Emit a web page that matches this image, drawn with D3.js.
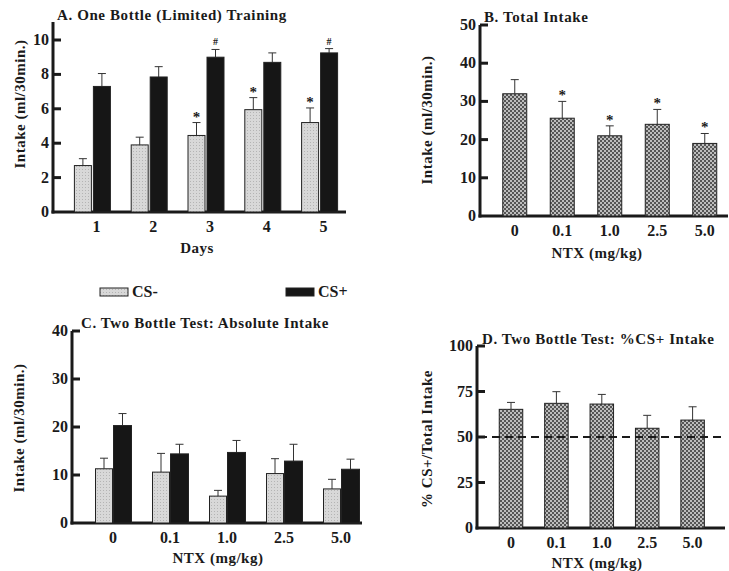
<!DOCTYPE html>
<html><head><meta charset="utf-8">
<script src="https://cdn.jsdelivr.net/npm/d3@7"></script>
<style>
body{margin:0;background:#fff;}
text{font-family:"Liberation Serif","Times New Roman",serif;font-weight:bold;fill:#1a1a1a;}
</style></head><body>
<svg id="chart" width="729" height="571"></svg>
<script>
// ---- data ----
const days = ["1","2","3","4","5"];
const aCSminus = [2.7, 3.9, 4.45, 5.95, 5.2];
const aCSminusErr = [0.4, 0.45, 0.75, 0.7, 0.85];
const aCSplus = [7.3, 7.85, 9.0, 8.7, 9.25];
const aCSplusErr = [0.75, 0.6, 0.45, 0.55, 0.25];
const aCSminusMarks = ["", "", "*", "*", "*"];
const aCSplusMarks = ["", "", "#", "", "#"];
const doses = ["0","0.1","1.0","2.5","5.0"];
const bTotal = [32.0, 25.6, 21.0, 24.0, 19.0];
const bTotalErr = [3.7, 4.4, 2.6, 3.9, 2.6];
const bMarks = ["", "*", "*", "*", "*"];
const cCSminus = [11.3, 10.6, 5.6, 10.3, 7.1];
const cCSminusErr = [2.2, 3.9, 1.2, 3.1, 2.0];
const cCSplus = [20.3, 14.4, 14.7, 12.9, 11.2];
const cCSplusErr = [2.5, 2.0, 2.5, 3.5, 2.1];
const dPercent = [65.2, 68.5, 68.1, 54.8, 59.3];
const dPercentErr = [3.8, 6.4, 5.3, 7.1, 7.3];
const dReference = 50;
const aTicks = [0,2,4,6,8,10];
const bTicks = [0,10,20,30,40,50];
const cTicks = [0,10,20,30,40];
const dTicks = [0,25,50,75,100];
const legendLabels = ["CS-","CS+"];

const svg = d3.select("#chart");
const defs = svg.append("defs");
const pat = defs.append("pattern").attr("id","checker").attr("patternUnits","userSpaceOnUse")
  .attr("width",4).attr("height",4);
pat.append("rect").attr("width",4).attr("height",4).attr("fill","#bdbdbd");
pat.append("rect").attr("width",2).attr("height",2).attr("fill","#555");
pat.append("rect").attr("x",2).attr("y",2).attr("width",2).attr("height",2).attr("fill","#555");
const pat2 = defs.append("pattern").attr("id","stipple").attr("patternUnits","userSpaceOnUse")
  .attr("width",3).attr("height",3);
pat2.append("rect").attr("width",3).attr("height",3).attr("fill","#d8d8d8");
pat2.append("rect").attr("x",1).attr("y",1).attr("width",1).attr("height",1).attr("fill","#b4b4b4");

const fills = {minus:"url(#stipple)", plus:"#161616", single:"url(#checker)"};

function panel(o){
  const g = svg.append("g");
  const y = d3.scaleLinear().domain(o.ydom).range([o.y0, o.y1]);
  const x = d3.scaleBand().domain(o.cats).range(o.xr);
  g.append("line").attr("x1",o.ax).attr("x2",o.ax).attr("y1",o.y0+1.5).attr("y2",o.axTop)
    .attr("stroke","#1a1a1a").attr("stroke-width",3);
  g.append("line").attr("x1",o.ax-1.5).attr("x2",o.axRight).attr("y1",o.y0).attr("y2",o.y0)
    .attr("stroke","#1a1a1a").attr("stroke-width",3);
  o.ticks.forEach(t=>{
    if(t!==0) g.append("line").attr("x1",o.ax).attr("x2",o.ax+8).attr("y1",y(t)).attr("y2",y(t))
      .attr("stroke","#1a1a1a").attr("stroke-width",3);
    g.append("text").attr("x",o.ax-4).attr("y",y(t)+5).attr("text-anchor","end")
      .attr("font-size",16).text(t);
  });
  o.cats.forEach(c=>{
    g.append("text").attr("x",x(c)+x.bandwidth()/2+(o.labDx||0)).attr("y",o.y0+20)
      .attr("text-anchor","middle").attr("font-size",16).text(c);
  });
  o.series.forEach(s=>{
    o.cats.forEach((c,i)=>{
      const cx = x(c)+x.bandwidth()/2 + s.off;
      const v = s.vals[i], e = s.err[i];
      g.append("line").attr("x1",cx).attr("x2",cx).attr("y1",y(v)).attr("y2",y(v+e))
        .attr("stroke","#333").attr("stroke-width",1);
      g.append("line").attr("x1",cx-4).attr("x2",cx+4).attr("y1",y(v+e)).attr("y2",y(v+e))
        .attr("stroke","#333").attr("stroke-width",1);
      g.append("rect").attr("x",cx-s.w/2).attr("y",y(v)).attr("width",s.w).attr("height",y(0)-y(v))
        .attr("fill",s.fill).attr("stroke","#222").attr("stroke-width",1);
      const m = s.marks ? s.marks[i] : "";
      if(m==="*") g.append("text").attr("x",cx).attr("y",y(v+e)-1).attr("text-anchor","middle")
        .attr("font-size",15).text("*");
      if(m==="#") g.append("text").attr("x",cx).attr("y",y(v+e)-4).attr("text-anchor","middle")
        .attr("font-size",10).text("#");
    });
  });
  if(o.ref!==undefined){
    g.append("line").attr("x1",o.ax+2).attr("x2",o.axRight).attr("y1",y(o.ref)).attr("y2",y(o.ref))
      .attr("stroke","#1a1a1a").attr("stroke-width",2).attr("stroke-dasharray","8,5");
  }
  g.append("text").attr("x",o.tx).attr("y",o.ty).attr("font-size",15).attr("letter-spacing",0.6).text(o.title);
  g.append("text").attr("transform",`translate(${o.ylx},${o.yly}) rotate(-90)`)
    .attr("text-anchor","middle").attr("font-size",15).attr("letter-spacing",0.5).text(o.ylabel);
  g.append("text").attr("x",o.xlx).attr("y",o.xly).attr("text-anchor","middle")
    .attr("font-size",15).attr("letter-spacing",0.5).text(o.xlabel);
}

panel({cats:days, ydom:[0,10], y0:212, y1:40, axTop:22, ax:53, axRight:346, xr:[64,348],
  ticks:aTicks, labDx:4,
  series:[{vals:aCSminus, err:aCSminusErr, off:-9.5, w:17, fill:fills.minus, marks:aCSminusMarks},
          {vals:aCSplus, err:aCSplusErr, off:9.5, w:17, fill:fills.plus, marks:aCSplusMarks}],
  title:"A. One Bottle (Limited) Training", tx:57, ty:20,
  ylabel:"Intake (ml/30min.)", ylx:25, yly:104, xlabel:"Days", xlx:197, xly:253});

panel({cats:doses, ydom:[0,50], y0:216, y1:25, axTop:25, ax:480, axRight:728, xr:[491,728.5],
  ticks:bTicks,
  series:[{vals:bTotal, err:bTotalErr, off:0, w:24, fill:fills.single, marks:bMarks}],
  title:"B. Total Intake", tx:484, ty:22,
  ylabel:"Intake (ml/30min.)", ylx:432, yly:120, xlabel:"NTX (mg/kg)", xlx:597, xly:258});

panel({cats:doses, ydom:[0,40], y0:523, y1:331, axTop:331, ax:72, axRight:362, xr:[84.5,369.5],
  ticks:cTicks,
  series:[{vals:cCSminus, err:cCSminusErr, off:-9, w:17, fill:fills.minus},
          {vals:cCSplus, err:cCSplusErr, off:9.5, w:18, fill:fills.plus}],
  title:"C. Two Bottle Test: Absolute Intake", tx:81, ty:328,
  ylabel:"Intake (ml/30min.)", ylx:24, yly:428, xlabel:"NTX (mg/kg)", xlx:218, xly:563});

panel({cats:doses, ydom:[0,100], y0:528, y1:346, axTop:346, ax:477, axRight:725, xr:[488.3,715.3],
  ticks:dTicks, ref:dReference,
  series:[{vals:dPercent, err:dPercentErr, off:0, w:23.5, fill:fills.single}],
  title:"D. Two Bottle Test: %CS+ Intake", tx:482, ty:344,
  ylabel:"% CS+/Total Intake", ylx:432, yly:439, xlabel:"NTX (mg/kg)", xlx:597, xly:568});

const leg = svg.append("g");
const legX = [100, 286], legFill = [fills.minus, fills.plus];
legendLabels.forEach((l,i)=>{
  leg.append("rect").attr("x",legX[i]).attr("y",288).attr("width",28).attr("height",8)
    .attr("fill",legFill[i]).attr("stroke","#222").attr("stroke-width",1);
  leg.append("text").attr("x",legX[i]+32).attr("y",297).attr("font-size",16).text(l);
});
</script></body></html>
